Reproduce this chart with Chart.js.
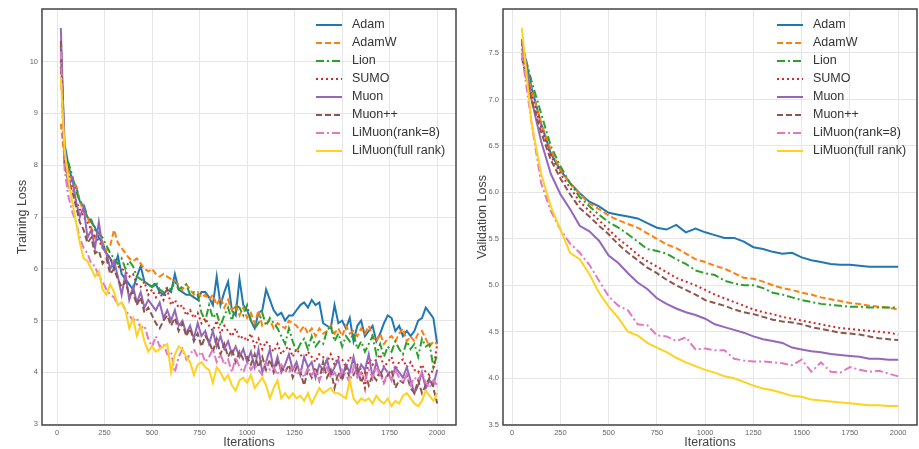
<!DOCTYPE html>
<html>
<head>
<meta charset="utf-8">
<script src="https://cdn.jsdelivr.net/npm/chart.js@4"></script>
<style>
  html, body { margin: 0; padding: 0; background: #fff; }
  #wrap { position: relative; width: 919px; height: 449px; }
  canvas { position: absolute; top: 0; }
  #trainChart { left: 0; }
  #valChart { left: 460px; }
</style>
</head>
<body>
<div id="wrap">
  <canvas id="trainChart" width="460" height="449"></canvas>
  <canvas id="valChart" width="459" height="449"></canvas>
</div>
<script>
const names = ["Adam", "AdamW", "Lion", "SUMO", "Muon", "Muon++", "LiMuon(rank=8)", "LiMuon(full rank)"];
const xTicks = [0, 250, 500, 750, 1000, 1250, 1500, 1750, 2000];
const trainYTicks = [3, 4, 5, 6, 7, 8, 9, 10];
const valYTicks = [3.5, 4.0, 4.5, 5.0, 5.5, 6.0, 6.5, 7.0, 7.5];

// training loss, logged every 20 iterations (20..2000)
const trainIters = Array.from({ length: 100 }, (_, i) => (i + 1) * 20);
// validation loss, logged every 50 iterations (50..2000)
const valIters = Array.from({ length: 40 }, (_, i) => (i + 1) * 50);

const trainAdam = [
  10.3, 8.4, 8.0, 7.7, 7.6, 7.3, 7.2, 7.0, 6.9, 6.8,
  6.6, 6.5, 6.3, 6.2, 6.0, 6.25, 5.9, 5.8, 5.7, 5.6,
  5.85, 6.05, 5.75, 5.7, 5.65, 5.7, 5.55, 5.5, 5.6, 5.55,
  5.9, 5.6, 5.55, 5.5, 5.5, 5.45, 5.4, 5.55, 5.55, 5.45,
  5.3, 5.85, 5.3, 5.55, 5.75, 5.2, 5.1, 5.8, 5.3, 5.2,
  5.0, 4.85, 5.15, 5.2, 5.6, 5.4, 5.2, 5.1, 5.15, 5.0,
  5.1, 5.1, 5.2, 5.3, 5.35, 5.25, 5.4, 5.3, 5.35, 4.95,
  4.9, 4.85, 5.3, 4.95, 5.0, 4.85, 5.05, 4.6, 4.9, 5.0,
  4.7, 4.8, 4.9, 4.6, 4.75, 4.95, 5.1, 5.05, 4.8, 4.9,
  4.7, 4.8, 4.7, 4.8, 5.0, 5.05, 5.25, 5.15, 5.05, 4.55
];
const trainAdamW = [
  8.8, 8.1, 7.9, 7.7, 7.6, 7.3, 7.1, 7.0, 6.8, 6.6,
  6.7, 6.5, 6.35, 6.45, 6.75, 6.5, 6.4, 6.3, 6.2, 6.15,
  6.2, 6.1, 6.0, 5.95, 6.0, 5.9, 5.85, 5.9, 5.85, 5.8,
  5.75, 5.7, 5.6, 5.7, 5.6, 5.5, 5.55, 5.45, 5.5, 5.4,
  5.5, 5.3, 5.45, 5.25, 5.4, 5.2, 5.3, 5.1, 5.25, 5.05,
  5.15, 4.95, 5.2, 4.9, 4.95, 5.0, 4.85, 4.95, 4.9, 4.85,
  5.0, 4.95, 4.9, 4.8, 4.9, 4.75, 4.85, 4.7, 4.85, 4.75,
  4.8, 4.9, 4.75, 4.85, 4.7, 4.9, 4.75, 4.8, 4.7, 4.85,
  4.75, 4.9, 4.7, 4.6, 4.75, 4.55, 4.65, 4.7, 4.6, 4.75,
  4.85, 4.6, 4.7, 4.6, 4.75, 4.8, 4.65, 4.5, 4.6, 4.55
];
const trainLion = [
  9.9, 8.1, 8.05, 7.8, 7.5, 7.3, 7.25, 7.0, 6.95, 6.75,
  6.7, 6.6, 6.45, 6.3, 6.2, 6.1, 6.2, 6.0, 6.15, 6.05,
  5.85, 5.8, 5.75, 5.7, 5.65, 5.75, 5.6, 5.55, 5.65, 5.6,
  5.75, 5.6, 5.65, 5.7, 5.5, 5.55, 5.5, 5.15, 5.0, 5.3,
  5.05, 5.15, 4.9, 5.1, 5.25, 5.0, 5.3, 5.25, 5.1, 5.3,
  5.0, 4.85, 4.95, 5.15, 4.9, 5.05, 4.95, 4.85, 4.7, 4.55,
  4.85, 4.6, 4.4, 4.55, 4.65, 4.45, 4.7, 4.5, 4.6, 4.55,
  4.8, 4.9, 4.6, 4.75, 4.5, 4.7, 4.6, 4.75, 4.45, 4.6,
  4.4, 4.55, 4.7, 4.35, 4.55, 4.3, 4.5, 4.4, 4.6, 4.45,
  4.35, 4.6, 4.45, 4.55, 4.3, 4.65, 4.5, 4.55, 4.1, 4.35
];
const trainSumo = [
  10.0, 8.0, 7.8, 7.6, 7.3, 7.15, 7.0, 6.9, 6.75, 6.6,
  6.55, 6.4, 6.3, 6.2, 6.1, 6.05, 6.0, 5.95, 5.85, 5.9,
  5.7, 5.65, 5.75, 5.5, 5.6, 5.45, 5.55, 5.4, 5.6, 5.3,
  5.4, 5.25, 5.3, 5.1, 5.2, 5.05, 5.15, 4.95, 5.05, 4.9,
  4.8, 5.0, 4.75, 4.9, 4.8, 4.7, 4.85, 4.65, 4.7, 4.6,
  4.75, 4.5, 4.65, 4.45, 4.6, 4.5, 4.4, 4.55, 4.35, 4.45,
  4.5, 4.3, 4.45, 4.35, 4.25, 4.4, 4.3, 4.2, 4.35, 4.3,
  4.2, 4.35, 4.15, 4.3, 4.25, 4.1, 4.3, 4.2, 4.15, 4.05,
  3.7, 4.3, 4.15, 4.25, 4.35, 4.1, 4.2, 4.3, 4.05, 4.2,
  4.25, 4.1, 4.2, 4.05, 4.0, 4.15, 4.0, 3.95, 4.05, 4.55
];
const trainMuon = [
  10.65, 8.2, 7.6, 7.75, 7.3, 7.0, 7.2, 6.6, 6.75, 6.4,
  6.9, 6.4, 6.3, 6.0, 6.15, 5.85, 5.5, 5.9, 5.4, 5.65,
  5.35, 5.55, 5.25, 5.4, 5.3, 5.2, 5.35, 5.05, 5.2, 5.0,
  5.2, 4.9, 5.0, 4.75, 4.9, 4.65, 4.95, 4.7, 4.8, 4.55,
  4.8, 4.5, 4.7, 4.45, 4.6, 4.35, 4.5, 4.3, 4.45, 4.2,
  4.4, 4.1, 4.45, 4.0, 4.2, 4.45, 4.05, 4.3, 4.0, 4.15,
  4.35, 4.05, 4.2, 3.95, 4.3, 4.1, 4.2, 3.9, 4.15, 4.05,
  4.25, 3.95, 4.1, 4.25, 3.9, 4.15, 4.0, 4.3, 3.95, 4.15,
  4.05, 4.35, 3.9, 4.2, 3.95, 4.1, 4.0, 3.85, 4.1, 4.0,
  3.9, 4.1, 3.85, 3.6, 3.75, 4.0, 3.7, 3.85, 3.75, 4.05
];
const trainMuonPP = [
  10.4, 8.0, 7.7, 7.5, 7.2, 6.9, 6.75, 6.5, 6.6, 6.3,
  6.35, 6.1, 6.2, 5.9, 6.0, 5.8, 5.65, 5.75, 5.5, 5.55,
  5.3, 5.45, 5.15, 5.25, 5.1, 4.95, 4.85, 5.0, 5.1, 4.9,
  5.05, 4.8, 4.95, 4.7, 4.85, 4.6, 4.75, 4.5, 4.7, 4.6,
  4.4, 4.65, 4.35, 4.55, 4.3, 4.45, 4.2, 4.4, 4.25, 4.3,
  4.15, 4.35, 4.1, 4.3, 4.05, 4.25, 4.0, 4.2, 4.1, 4.0,
  4.15, 3.9, 4.1, 4.0, 3.75, 4.05, 3.9, 4.1, 3.85, 4.2,
  3.9, 4.05, 3.7, 4.0, 3.85, 4.1, 3.9, 3.95, 4.1, 3.8,
  4.0, 3.75, 3.95, 3.85, 4.05, 3.8, 3.95, 4.05, 3.7, 3.85,
  3.8, 3.95, 3.7, 3.6, 3.85, 3.6, 3.75, 3.9, 3.7, 3.4
];
const trainLiMuon8 = [
  10.2, 7.9, 7.4, 7.1, 6.9, 6.6, 6.4, 6.3, 6.1, 6.05,
  5.85, 5.75, 5.6, 5.5, 5.45, 5.3, 5.35, 5.2, 5.1, 5.0,
  5.05, 4.85, 4.9, 4.65, 4.5, 4.7, 4.5, 4.55, 4.35, 4.4,
  4.0, 4.3, 4.45, 4.25, 4.35, 4.45, 4.3, 4.4, 4.2, 4.3,
  4.45, 4.2, 4.35, 4.15, 4.25, 4.0, 4.3, 4.1, 4.0, 4.2,
  4.05, 4.15, 4.05, 3.95, 4.2, 4.05, 4.1, 3.95, 4.15, 4.05,
  4.0, 4.1, 3.95, 4.05, 3.9, 4.1, 3.95, 4.05, 3.85, 4.0,
  4.1, 3.9, 4.0, 3.85, 4.05, 3.95, 3.8, 4.1, 3.9, 4.0,
  3.85, 4.05, 3.9, 4.1, 3.95, 3.8, 4.0, 3.85, 4.05, 3.9,
  3.8, 3.95, 3.75, 3.9, 3.85, 4.0, 3.8, 3.7, 3.85, 3.75
];
const trainLiMuonFull = [
  9.7, 8.3, 7.7, 7.3, 6.9, 6.5, 6.2, 6.15, 6.0, 5.85,
  5.95, 5.6, 5.5, 5.7, 5.55, 5.3, 5.35, 5.2, 4.85, 5.05,
  4.7, 4.9, 4.6, 4.4, 4.5, 4.4, 4.45, 4.5, 4.55, 4.0,
  4.35, 4.5, 4.45, 4.3, 4.2, 3.95, 4.15, 4.2, 4.1, 4.05,
  3.8, 4.1, 4.0, 3.85, 3.95, 3.75, 3.65, 3.85, 3.9, 3.8,
  3.95, 3.7, 3.8, 3.9, 3.75, 3.5, 3.7, 3.85, 3.5, 3.6,
  3.5, 3.6, 3.5, 3.55, 3.45, 3.6, 3.4, 3.55, 3.7, 3.6,
  3.65, 3.7, 3.6, 3.6, 3.55, 3.5, 3.85, 3.5, 3.4, 3.5,
  3.45, 3.5, 3.4, 3.55, 3.45, 3.4, 3.5, 3.35, 3.45, 3.4,
  3.55, 3.6, 3.5, 3.4, 3.35, 3.45, 3.65, 3.55, 3.45, 3.6
];

const valAdam = [
  7.63, 7.13, 6.74, 6.42, 6.24, 6.1, 5.99, 5.9, 5.85, 5.78,
  5.76, 5.74, 5.72, 5.67, 5.62, 5.6, 5.65, 5.57, 5.61, 5.57,
  5.54, 5.51, 5.51, 5.47, 5.41, 5.39, 5.36, 5.34, 5.35, 5.3,
  5.27, 5.25, 5.23, 5.22, 5.22, 5.21, 5.2, 5.2, 5.2, 5.2
];
const valAdamW = [
  7.55, 7.1, 6.75, 6.45, 6.25, 6.1, 5.98, 5.88, 5.82, 5.75,
  5.7, 5.66, 5.62, 5.56, 5.5, 5.44, 5.4, 5.34, 5.28, 5.25,
  5.21, 5.18, 5.13, 5.08, 5.07, 5.04, 5.0, 4.97, 4.95, 4.92,
  4.9, 4.87, 4.85, 4.83, 4.81, 4.8, 4.78, 4.77, 4.76, 4.74
];
const valLion = [
  7.6, 7.2, 6.85, 6.5, 6.28, 6.1, 5.95, 5.85, 5.76, 5.68,
  5.62, 5.55, 5.47, 5.39, 5.37, 5.34, 5.28, 5.23, 5.16, 5.13,
  5.11, 5.05, 5.02, 5.0, 5.0, 4.97, 4.92, 4.9, 4.87, 4.84,
  4.82, 4.8, 4.79, 4.78, 4.77, 4.77, 4.76, 4.76, 4.76, 4.76
];
const valSumo = [
  7.5, 7.05, 6.7, 6.4, 6.2, 6.05, 5.9, 5.8, 5.7, 5.6,
  5.5, 5.42, 5.33, 5.26, 5.2, 5.14, 5.08, 5.04, 5.0, 4.95,
  4.9, 4.86, 4.82, 4.78, 4.74, 4.71, 4.69, 4.66, 4.64, 4.62,
  4.6, 4.58, 4.56, 4.54, 4.53, 4.52, 4.51, 4.5, 4.49, 4.47
];
const valMuon = [
  7.65, 7.0, 6.55, 6.2, 5.98, 5.82, 5.64, 5.58, 5.48, 5.32,
  5.24, 5.13, 5.03, 4.96, 4.86, 4.8, 4.75, 4.71, 4.68, 4.64,
  4.58, 4.55, 4.52, 4.49, 4.45, 4.42, 4.4, 4.38, 4.33, 4.31,
  4.29, 4.28, 4.26, 4.25, 4.24, 4.23, 4.21, 4.21, 4.2, 4.2
];
const valMuonPP = [
  7.45, 7.0, 6.65, 6.35, 6.15, 5.98, 5.83, 5.74, 5.64, 5.55,
  5.44, 5.35, 5.27, 5.19, 5.13, 5.06, 5.0, 4.95, 4.9, 4.84,
  4.81, 4.78, 4.74, 4.71, 4.69, 4.66, 4.63, 4.61, 4.6, 4.58,
  4.55, 4.53, 4.51, 4.49, 4.48, 4.47, 4.45, 4.43, 4.42, 4.41
];
const valLiMuon8 = [
  7.5, 6.75, 6.1, 5.8, 5.6, 5.45, 5.35, 5.22, 5.05, 4.88,
  4.78, 4.73, 4.58, 4.57, 4.46, 4.45, 4.4, 4.44, 4.31, 4.32,
  4.3, 4.3, 4.21, 4.19, 4.18, 4.18, 4.17, 4.16, 4.14, 4.2,
  4.07, 4.17, 4.07, 4.06, 4.12, 4.09, 4.07, 4.08, 4.05, 4.02
];
const valLiMuonFull = [
  7.77, 6.75, 6.2, 5.85, 5.6, 5.35, 5.28, 5.12, 4.92, 4.77,
  4.65, 4.5, 4.46, 4.38, 4.33, 4.28, 4.22, 4.17, 4.13, 4.09,
  4.06, 4.02, 4.0, 3.96, 3.92, 3.89, 3.87, 3.84, 3.81, 3.8,
  3.77, 3.76, 3.75, 3.74, 3.73, 3.72, 3.71, 3.71, 3.7, 3.7
];

const colors = ["#1f77b4", "#ff7f0e", "#2ca02c", "#d62728", "#9467bd", "#8c564b", "#e377c2", "#ffd21f"];
const dashes = [[], [6, 3], [8, 3, 2, 3], [2, 3], [], [6, 3], [8, 3, 2, 3], []];

const font = "'Liberation Sans', Arial, sans-serif";

function makeDatasets(xs, series) {
    return series.map((ys, i) => ({
        label: names[i],
        data: ys.map((y, j) => ({ x: xs[j], y })),
        borderColor: colors[i],
        borderDash: dashes[i],
        borderWidth: 2,
        pointRadius: 0,
        tension: 0,
        fill: false,
        order: series.length - i
    }));
}

// plot frame + in-plot legend (no box, like matplotlib with frameon=False)
const framePlugin = {
    id: "frame",
    afterDraw(chart) {
        const { ctx, chartArea: a } = chart;
        ctx.save();
        ctx.strokeStyle = "#444";
        ctx.lineWidth = 1.5;
        ctx.strokeRect(a.left, a.top, a.right - a.left, a.bottom - a.top);

        ctx.font = "12.5px " + font;
        ctx.textBaseline = "middle";
        chart.data.datasets.forEach((ds, i) => {
            const y = 25 + i * 18;
            const x0 = a.right - 140;
            ctx.strokeStyle = ds.borderColor;
            ctx.lineWidth = 2;
            ctx.setLineDash(ds.borderDash);
            ctx.beginPath();
            ctx.moveTo(x0, y);
            ctx.lineTo(x0 + 26, y);
            ctx.stroke();
            ctx.setLineDash([]);
            ctx.fillStyle = "#333";
            ctx.fillText(ds.label, a.right - 104, y);
        });
        ctx.restore();
    }
};

function makeChart(id, xs, series, opts) {
    return new Chart(document.getElementById(id).getContext("2d"), {
        type: "line",
        data: { datasets: makeDatasets(xs, series) },
        options: {
            responsive: false,
            animation: false,
            layout: { padding: { top: 9, right: opts.padRight, left: 0, bottom: 0 } },
            plugins: { legend: { display: false }, tooltip: { enabled: false } },
            scales: {
                x: {
                    type: "linear",
                    min: opts.xMin,
                    max: opts.xMax,
                    afterBuildTicks: s => { s.ticks = xTicks.map(v => ({ value: v })); },
                    afterFit: s => { s.height = 24; },
                    grid: { color: "#e6e6e6", drawTicks: false },
                    border: { display: false },
                    ticks: { color: "#666", font: { size: 7.5, family: font }, padding: 3, maxRotation: 0, callback: v => String(v) },
                    title: { display: true, text: "Iterations", color: "#444", font: { size: 12.5, family: font }, padding: { top: 0, bottom: -1 } }
                },
                y: {
                    type: "linear",
                    min: opts.yMin,
                    max: opts.yMax,
                    afterBuildTicks: s => { s.ticks = opts.yTicks.map(v => ({ value: v })); },
                    afterFit: s => { s.width = opts.axisWidth; },
                    grid: { color: "#e6e6e6", drawTicks: false },
                    border: { display: false },
                    ticks: { color: "#666", font: { size: 7.5, family: font }, padding: 4, callback: opts.fmt },
                    title: { display: true, text: opts.yTitle, color: "#444", font: { size: 12.5, family: font }, padding: { top: 15, bottom: 0 } }
                }
            }
        },
        plugins: [framePlugin]
    });
}

makeChart("trainChart", trainIters,
    [trainAdam, trainAdamW, trainLion, trainSumo, trainMuon, trainMuonPP, trainLiMuon8, trainLiMuonFull],
    { xMin: -79, xMax: 2099, yMin: 2.985, yMax: 11.015, yTicks: trainYTicks, axisWidth: 42, padRight: 4,
      yTitle: "Training Loss", fmt: v => String(v) });

makeChart("valChart", valIters,
    [valAdam, valAdamW, valLion, valSumo, valMuon, valMuonPP, valLiMuon8, valLiMuonFull],
    { xMin: -47.5, xMax: 2097.5, yMin: 3.4965, yMax: 7.9735, yTicks: valYTicks, axisWidth: 43, padRight: 2,
      yTitle: "Validation Loss", fmt: v => v.toFixed(1) });
</script>
</body>
</html>
